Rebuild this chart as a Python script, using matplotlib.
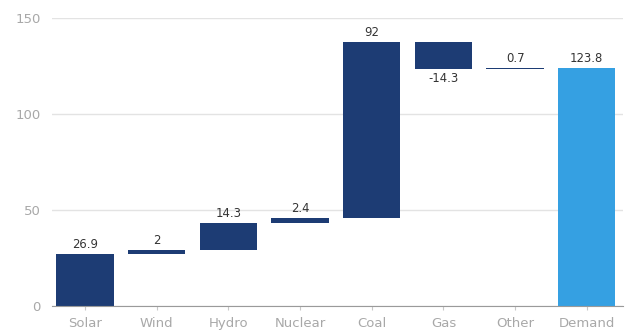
import matplotlib
matplotlib.use("Agg")
import matplotlib.pyplot as plt
import numpy as np

categories = ["Solar", "Wind", "Hydro", "Nuclear", "Coal", "Gas", "Other", "Demand"]
changes = [26.9, 2, 14.3, 2.4, 92, -14.3, 0.7]
total_value = 123.8
labels = ["26.9", "2", "14.3", "2.4", "92", "-14.3", "0.7", "123.8"]
yticks = [0, 50, 100, 150]

navy = "#1d3c74"
light = "#35a0e2"
grid_c = "#e3e3e3"
text_c = "#333333"
tick_c = "#a8a8a8"

plt.rcParams['font.family'] = ['DejaVu Sans']

fig = plt.figure(figsize=(6.27, 3.34), dpi=100)
ax = fig.add_axes([0.083, 0.085, 0.91, 0.862])

cum = np.concatenate([[0], np.cumsum(changes)])
bottoms = []
heights = []
for i, c in enumerate(changes):
    bottoms.append(cum[i])
    heights.append(c)
x = np.arange(len(categories))
ax.bar(x[:-1], heights, bottom=bottoms, width=0.8, color=navy, zorder=3)
ax.bar(x[-1], total_value, width=0.8, color=light, zorder=3)

lab_font = dict(fontsize=8.4, color=text_c, zorder=4, family=['DejaVu Sans'])
for i, c in enumerate(changes):
    top = max(cum[i], cum[i + 1])
    bot = min(cum[i], cum[i + 1])
    if c >= 0:
        ax.text(x[i], top + 1.5, labels[i], ha="center", va="bottom", **lab_font)
    else:
        ax.text(x[i], bot - 1.5, labels[i], ha="center", va="top", **lab_font)
ax.text(x[-1], total_value + 1.5, labels[-1], ha="center", va="bottom", **lab_font)

ax.set_ylim(0, 150)
ax.set_xlim(-0.46, 7.5)
ax.set_yticks(yticks)
ax.set_yticklabels([str(t) for t in yticks])
ax.set_xticks(x)
ax.set_xticklabels(categories)
ax.yaxis.grid(True, color=grid_c, linewidth=1, zorder=0)
ax.set_axisbelow(True)
for s in ["top", "right", "left"]:
    ax.spines[s].set_visible(False)
ax.spines["bottom"].set_color("#9a9a9a")
ax.spines["bottom"].set_zorder(5)
ax.tick_params(axis="y", length=0, labelsize=9.5, labelcolor=tick_c, pad=8)
ax.tick_params(axis="x", length=3, color="#c8c8c8", labelsize=9.5, labelcolor=tick_c, pad=5)

fig.savefig("out.png", dpi=100)
